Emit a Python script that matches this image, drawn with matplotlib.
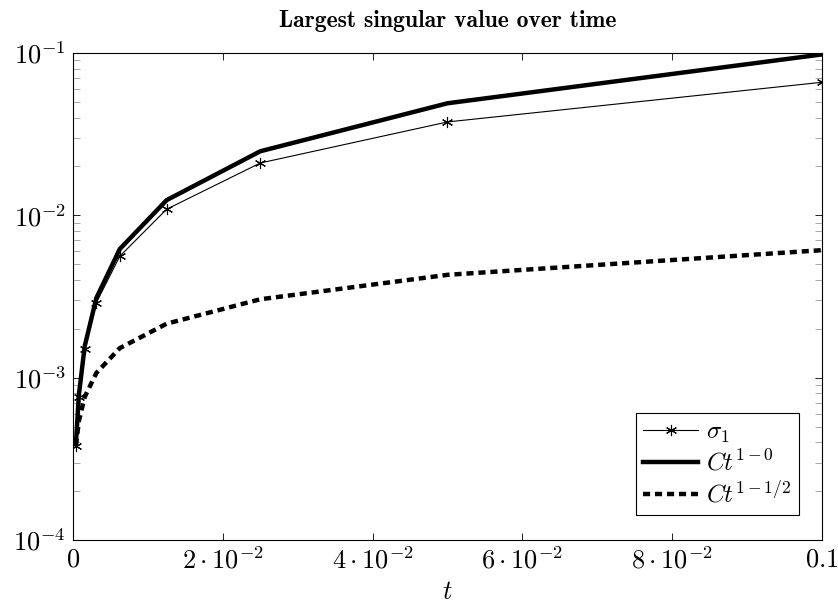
import numpy as np
import matplotlib
matplotlib.use("Agg")
import matplotlib.pyplot as plt

plt.rcParams['mathtext.fontset'] = 'cm'
plt.rcParams['font.family'] = 'DejaVu Serif'

# time steps (t = 0.1 / 2^k)
t = [0.000390625, 0.00078125, 0.0015625, 0.003125, 0.00625, 0.0125, 0.025, 0.05, 0.1]
# largest singular value
sigma1 = [0.00038, 0.00076, 0.0015, 0.0029, 0.0056, 0.0109, 0.021, 0.0376, 0.066]
# reference slopes
ct_one = [0.00039, 0.00078, 0.00156, 0.0031, 0.0062, 0.0124, 0.0248, 0.049, 0.098]
ct_half = [0.00038, 0.00054, 0.00076, 0.00107, 0.00152, 0.00215, 0.00304, 0.0043, 0.0061]

xticks = [0, 0.02, 0.04, 0.06, 0.08, 0.1]
xlabels = [r'$0$', r'$2\cdot10^{-2}$', r'$4\cdot10^{-2}$', r'$6\cdot10^{-2}$', r'$8\cdot10^{-2}$', r'$0.1$']
yticks = [1e-4, 1e-3, 1e-2, 1e-1]
ylabels = [r'$10^{-4}$', r'$10^{-3}$', r'$10^{-2}$', r'$10^{-1}$']

fig = plt.figure(figsize=(8.38, 6.09), dpi=100)
ax = fig.add_subplot(111)
fig.subplots_adjust(left=0.0871, right=0.9809, top=0.913, bottom=0.1133)

ax.plot(t, sigma1, color='black', lw=0.8, marker=(6, 2, 0), ms=8, mew=0.8, label=r'$\sigma_1$')
ax.plot(t, ct_one, color='black', lw=3.2, solid_joinstyle='miter', label=r'$Ct^{1-0}$')
ax.plot(t, ct_half, color='black', lw=3.2, linestyle=(0, (1.6, 1.1)), dash_capstyle='butt',
        label=r'$Ct^{1-1/2}$')

ax.set_yscale('log')
ax.set_xlim(0, 0.1)
ax.set_ylim(1e-4, 1e-1)
ax.set_xticks(xticks, labels=xlabels)
ax.set_yticks(yticks, labels=ylabels)
ax.tick_params(which='both', direction='in', top=True, right=True, labelsize=19, pad=5)
ax.tick_params(which='major', length=5, width=0.6)
ax.tick_params(which='minor', length=5, width=0.5, color='#888888')
for s in ax.spines.values():
    s.set_linewidth(0.8)

ax.set_xlabel(r'$t$', fontsize=19, labelpad=4)
ax.set_title('Largest singular value over time', fontsize=17, family='cmb10', pad=19)

leg = ax.legend(loc='lower right', bbox_to_anchor=(0.969, 0.051), fontsize=18,
                frameon=True, fancybox=False, edgecolor='black', framealpha=1,
                handlelength=2.2, borderpad=0.3, labelspacing=0.2, handletextpad=0.3,
                borderaxespad=0)
leg.get_frame().set_linewidth(0.8)

plt.savefig('out.png', dpi=100)
